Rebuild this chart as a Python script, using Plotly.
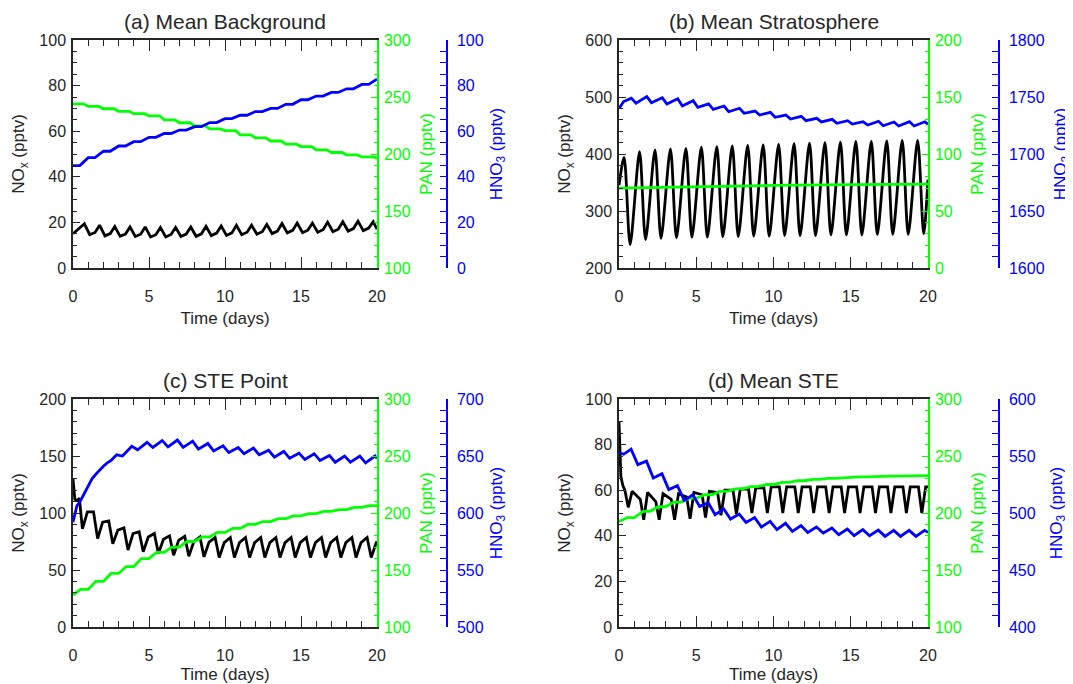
import plotly.graph_objects as go

# ---------------- data ----------------
# (a) Mean Background
nox_a_start = [(0.0, 15.0)]
nox_a_peak = [19.4, 18.8, 18.2, 18.0, 18.0, 17.8, 17.8, 18.0, 18.3, 18.4,
              18.7, 18.8, 19.1, 19.5, 19.7, 19.7, 20.1, 20.3, 20.5, 20.3]
nox_a_trough = [14.6, 14.1, 13.9, 13.8, 13.6, 13.6, 13.8, 13.9, 14.2, 14.3,
                14.6, 14.8, 15.1, 15.4, 15.5, 15.7, 15.9, 16.2, 16.4]
nox_a_knee = [15.6, 15.1, 14.9, 14.8, 14.6, 14.7, 14.9, 15.0, 15.3, 15.4,
              15.7, 15.9, 16.2, 16.5, 16.6, 16.8, 17.0, 17.3, 17.5]
nox_a_end = (20.0, 17.0)
pan_a_daily = [244.0, 241.7, 239.7, 237.4, 235.4, 233.5, 230.0, 227.4, 224.7, 222.0,
               220.5, 216.8, 214.2, 211.4, 208.6, 206.5, 203.6, 201.3, 199.2, 197.4, 196.5]
hno3_a_daily = [44.9, 48.4, 51.2, 53.5, 55.4, 57.3, 59.0, 60.5, 62.0, 63.8,
                65.5, 67.0, 68.6, 70.0, 71.8, 73.8, 75.4, 77.0, 78.6, 80.5, 82.8]

# (b) Mean Stratosphere
nox_b_start = [(0.0, 345.0)]
nox_b_peak = [394, 404, 407, 409, 410, 412, 413, 414, 415, 416,
              417, 418, 419, 420, 421, 422, 422, 423, 424, 424]
nox_b_trough = [241, 250, 252, 253, 254, 254, 255, 255, 256, 256,
                257, 257, 257, 258, 258, 258, 259, 259, 259, 260]
nox_b_end = (20.0, 355.0)
pan_b_days = [0, 5, 10, 15, 20]
pan_b_vals = [70.0, 71.5, 72.5, 73.1, 73.5]
hno3_b_start = [(0.0, 1740.0), (0.3, 1746.0)]
hno3_b_peak = [1749.0, 1750.3, 1749.4, 1748.5, 1746.8, 1744.0, 1742.1, 1740.1, 1737.7, 1736.6,
               1734.2, 1733.1, 1731.3, 1730.4, 1729.2, 1728.3, 1728.7, 1728.1, 1728.3, 1728.3]
hno3_b_trough = [1744.5, 1745.0, 1743.9, 1742.1, 1741.0, 1739.2, 1737.1, 1735.7, 1734.2, 1732.2,
                 1730.7, 1729.2, 1728.1, 1726.9, 1726.3, 1725.4, 1724.8, 1724.6, 1724.6]
hno3_b_end = (20.0, 1726.0)

# (c) STE Point
nox_c_start = [(0.0, 130.0), (0.12, 112.0), (0.3, 111.0), (0.42, 113.0)]
nox_c_trough = [86, 77.5, 73, 67.5, 66, 64.5, 63, 62, 61.5, 61,
                61, 61, 61, 61, 61, 61, 61, 61, 61, 61]
nox_c_shoulder = [101, 92, 85, 82, 79, 77, 76, 75, 74.5, 74,
                  74, 74, 74, 74, 74, 74, 74, 74, 74, 74]
nox_c_peak = [101, 93, 87, 83.5, 82, 80, 79.5, 79, 78.5, 78.5,
              78.5, 78.5, 78.5, 78.5, 78.5, 78.5, 78.5, 78.5, 78.5]
nox_c_end = (20.0, 75.0)
pan_c_daily = [128, 133, 140, 147, 153, 160, 165.5, 170, 175, 179,
               183, 186.5, 190, 192.5, 195, 197.5, 199.5, 201.5, 203, 205, 206.5]
hno3_c_start = [(0.0, 592), (0.25, 606), (0.5, 611), (0.75, 617), (1.0, 624), (1.25, 630),
                (1.5, 634), (1.75, 638), (2.0, 641), (2.25, 644), (2.5, 646), (2.87, 651),
                (3.25, 650), (3.87, 658.5), (4.25, 655.5)]
hno3_c_peak = [662, 663.5, 664, 663, 661, 659, 657.5, 657, 655, 654,
               652.5, 652, 650.5, 650, 650, 650]
hno3_c_trough = [657.5, 658, 657.5, 656, 654.5, 653, 652, 651, 649, 648,
                 647, 646, 644.5, 644.5, 644]
hno3_c_end = (20.0, 648.0)

# (d) Mean STE
nox_d_start = [(0.0, 90.0), (0.05, 78.0), (0.12, 66.0), (0.25, 62.0), (0.38, 60.0)]
nox_d_trough = [52.5, 47, 47, 47, 47.5, 48, 49, 49.5, 50, 50,
                50, 50, 50, 50, 50, 50, 50, 50, 50, 50]
nox_d_rise = [59.5, 59, 58.5, 58.5, 59, 59.5, 60, 60.5, 61, 61.5,
              61.5, 61.5, 61.5, 61.5, 61.5, 61.5, 61.5, 61.5, 61.5, 61.5]
nox_d_drop = [56, 55, 56, 57, 58, 59, 60, 60.5, 61, 61.5,
              61.5, 61.5, 61.5, 61.5, 61.5, 61.5, 61.5, 61.5, 61.5]
nox_d_end = (20.0, 61.5)
pan_d_daily = [192.5, 196, 201.5, 205.5, 209.5, 213, 216, 219, 221.2, 223.2,
               225, 226.8, 228.3, 229.5, 230.4, 231.1, 231.7, 232.1, 232.4, 232.6, 232.7]
hno3_d_start = [(0.0, 553.0), (0.3, 551.5)]
hno3_d_peak = [556, 545.5, 534.5, 524, 516, 509, 503.5, 499, 496, 492.6,
               491, 489, 487.7, 486.8, 486, 485.4, 485, 484.8, 484.8, 484.8]
hno3_d_trough = [542.4, 530.7, 520.5, 511.1, 505.8, 498.5, 494.7, 491.8, 487.7, 485.4,
                 483.9, 483, 482.5, 481, 480.1, 480.1, 479.5, 479.5, 479.5]
hno3_d_end = (20.0, 483.0)

titles = ["(a) Mean Background", "(b) Mean Stratosphere", "(c) STE Point", "(d) Mean STE"]
nox_ranges = [(0, 100, 20, 5), (200, 600, 100, 20), (0, 200, 50, 10), (0, 100, 20, 5)]
pan_ranges = [(100, 300, 50, 10), (0, 200, 50, 10), (100, 300, 50, 10), (100, 300, 50, 10)]
hno3_ranges = [(0, 100, 20, 5), (1600, 1800, 50, 10), (500, 700, 50, 10), (400, 600, 50, 10)]


def build(start, parts, end):
    """parts: list of (day phase, first cycle index, values)."""
    pts = list(start)
    for phase, n0, vals in parts:
        for i, v in enumerate(vals):
            pts.append((n0 + i + phase, v))
    pts.append(end)
    pts.sort()
    return [p[0] for p in pts], [p[1] for p in pts]


def daily(vals, plateau=None):
    """Daily values; each value is held flat over `plateau` days (after if >0, before if <0)."""
    pts = [(float(i), v) for i, v in enumerate(vals)]
    if plateau is not None:
        for i, v in enumerate(vals):
            t = i + plateau
            if 0 < t < len(vals) - 1:
                pts.append((t, v))
    pts.sort()
    return [p[0] for p in pts], [p[1] for p in pts]


series = [
    dict(
        nox=build(nox_a_start, [(0.75, 0, nox_a_peak), (1.1, 0, nox_a_trough),
                                (1.45, 0, nox_a_knee)], nox_a_end),
        pan=daily(pan_a_daily, plateau=0.7),
        hno3=daily(hno3_a_daily, plateau=0.45),
        nox_shape="linear",
    ),
    dict(
        nox=build(nox_b_start, [(0.33, 0, nox_b_peak), (0.72, 0, nox_b_trough)], nox_b_end),
        pan=(pan_b_days, pan_b_vals),
        hno3=build(hno3_b_start, [(0.8, 0, hno3_b_peak), (1.1, 0, hno3_b_trough)], hno3_b_end),
        nox_shape="spline",
    ),
    dict(
        nox=build(nox_c_start, [(0.62, 0, nox_c_trough), (0.95, 0, nox_c_shoulder),
                                (1.35, 0, nox_c_peak)], nox_c_end),
        pan=daily(pan_c_daily, plateau=-0.5),
        hno3=build(hno3_c_start, [(0.87, 4, hno3_c_peak), (1.25, 4, hno3_c_trough)], hno3_c_end),
        nox_shape="linear",
    ),
    dict(
        nox=build(nox_d_start, [(0.6, 0, nox_d_trough), (0.85, 0, nox_d_rise),
                                (1.38, 0, nox_d_drop)], nox_d_end),
        pan=daily(pan_d_daily, plateau=-0.45),
        hno3=build(hno3_d_start, [(0.78, 0, hno3_d_peak), (1.22, 0, hno3_d_trough)], hno3_d_end),
        nox_shape="linear",
    ),
]

# ---------------- layout ----------------
OFF = 8                      # page body margin of the browser
W, H = 1073 - OFF, 684 - OFF
FONT = "Liberation Sans, Arial, Helvetica, sans-serif"
TXT = "#262626"
GREEN = "#00ff00"
BLUE = "#0000ff"

xdoms = [(73, 377), (619, 928), (73, 377), (619, 928)]   # screen pixels
ydoms = [(40, 268), (40, 268), (399, 627), (399, 627)]
hno3_pos = [447, 999, 447, 999]
hno3_standoff = [6, 14, 6, 14]


def px(x):
    return (x - OFF) / W


def py(y):
    return 1 - (y - OFF) / H


fig = go.Figure()
layout = dict(
    width=W, height=H, autosize=False, margin=dict(l=0, r=0, t=0, b=0, pad=0),
    paper_bgcolor="white", plot_bgcolor="white",
    showlegend=False, font=dict(family=FONT, size=16, color=TXT),
    annotations=[],
)

for i in range(4):
    xn = "" if i == 0 else str(i + 1)
    y1, y2, y3 = 3 * i + 1, 3 * i + 2, 3 * i + 3
    yn1 = "" if y1 == 1 else str(y1)
    s = series[i]

    fig.add_trace(go.Scatter(x=s["nox"][0], y=s["nox"][1], mode="lines",
                             line=dict(color="black", width=2.8, shape=s["nox_shape"], smoothing=0.8),
                             xaxis="x" + xn, yaxis="y" + yn1))
    fig.add_trace(go.Scatter(x=s["pan"][0], y=s["pan"][1], mode="lines",
                             line=dict(color=GREEN, width=2.8),
                             xaxis="x" + xn, yaxis="y" + str(y2)))
    fig.add_trace(go.Scatter(x=s["hno3"][0], y=s["hno3"][1], mode="lines",
                             line=dict(color=BLUE, width=2.8),
                             xaxis="x" + xn, yaxis="y" + str(y3)))

    xd = [px(xdoms[i][0]), px(xdoms[i][1])]
    yd = [py(ydoms[i][1]), py(ydoms[i][0])]

    layout["xaxis" + xn] = dict(
        domain=xd, anchor="y" + yn1, range=[0, 20], tick0=0, dtick=5, automargin=False,
        ticks="inside", ticklen=11, tickwidth=1.3, tickcolor=TXT,
        minor=dict(dtick=1, ticks="inside", ticklen=6, tickwidth=1.2, tickcolor=TXT),
        showline=True, linecolor=TXT, linewidth=1.5, mirror="ticks",
        showgrid=False, zeroline=False,
        tickfont=dict(size=16, color=TXT), ticklabelstandoff=13,
        title=dict(text="Time (days)", font=dict(size=17, color=TXT), standoff=8),
    )
    lo, hi, dt, mdt = nox_ranges[i]
    layout["yaxis" + yn1] = dict(
        domain=yd, anchor="x" + xn, range=[lo, hi], tick0=lo, dtick=dt, automargin=False,
        ticks="inside", ticklen=7, tickwidth=1.3, tickcolor=TXT,
        minor=dict(dtick=mdt, ticks="inside", ticklen=4, tickwidth=1.2, tickcolor=TXT),
        showline=True, linecolor=TXT, linewidth=1.5,
        showgrid=False, zeroline=False,
        tickfont=dict(size=16, color=TXT), ticklabelstandoff=2,
        title=dict(text="NO<sub>x</sub> (pptv)", font=dict(size=17, color=TXT), standoff=10),
    )
    lo, hi, dt, mdt = pan_ranges[i]
    layout["yaxis" + str(y2)] = dict(
        overlaying="y" + yn1, side="right", anchor="x" + xn, automargin=False,
        range=[lo, hi], tick0=lo, dtick=dt,
        ticks="inside", ticklen=6, tickwidth=1.2, tickcolor=GREEN,
        minor=dict(dtick=mdt, ticks="inside", ticklen=3, tickwidth=1.1, tickcolor=GREEN),
        showline=True, linecolor=GREEN, linewidth=1.5,
        showgrid=False, zeroline=False,
        tickfont=dict(size=16, color=GREEN), ticklabelstandoff=2,
        title=dict(text="PAN (pptv)", font=dict(size=17, color=GREEN), standoff=10),
    )
    lo, hi, dt, mdt = hno3_ranges[i]
    layout["yaxis" + str(y3)] = dict(
        overlaying="y" + yn1, side="right", anchor="free", position=px(hno3_pos[i]),
        automargin=False, range=[lo, hi], tick0=lo, dtick=dt,
        ticks="inside", ticklen=6, tickwidth=1.2, tickcolor=BLUE,
        minor=dict(dtick=mdt, ticks="inside", ticklen=6, tickwidth=1.1, tickcolor=BLUE),
        showline=True, linecolor=BLUE, linewidth=1.5,
        showgrid=False, zeroline=False,
        tickfont=dict(size=16, color=BLUE), ticklabelstandoff=6,
        title=dict(text="HNO<sub>3</sub> (pptv)", font=dict(size=17, color=BLUE),
                   standoff=hno3_standoff[i]),
    )
    layout["annotations"].append(dict(
        text=titles[i], xref="paper", yref="paper",
        x=px((xdoms[i][0] + xdoms[i][1]) / 2), y=py(ydoms[i][0] - 19),
        xanchor="center", yanchor="middle", showarrow=False,
        font=dict(size=21, color=TXT, family=FONT),
    ))

fig.update_layout(**layout)
fig.write_html("out.html", config={"responsive": False})
